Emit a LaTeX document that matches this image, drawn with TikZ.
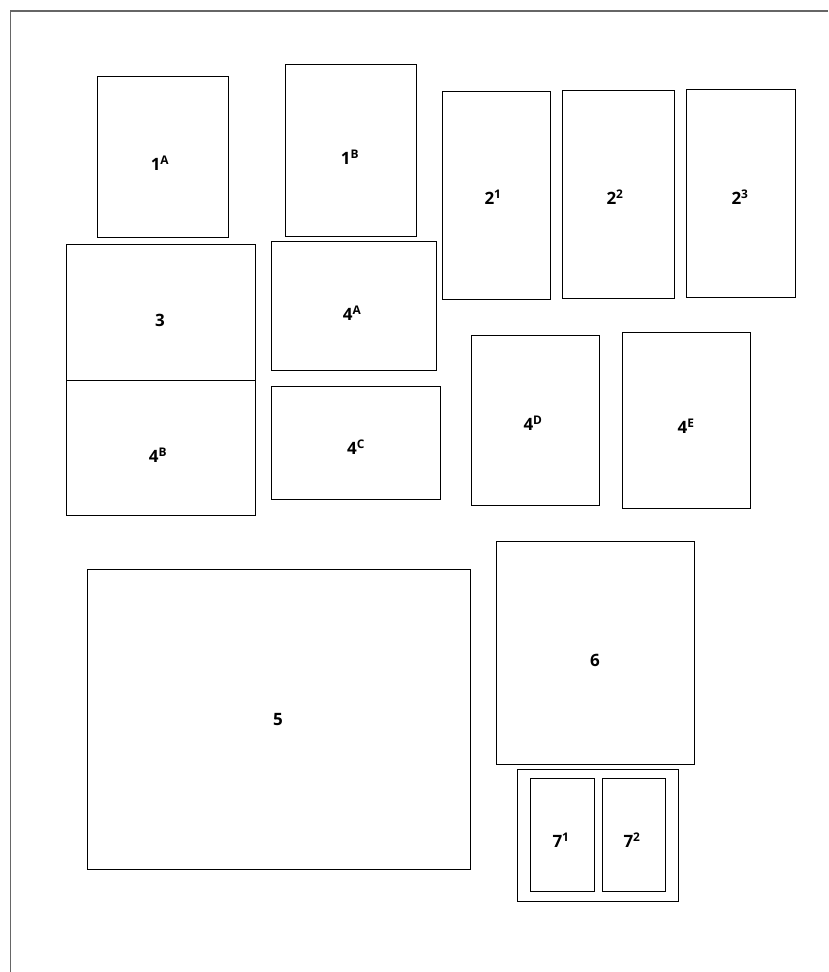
\documentclass[tikz,border=0pt]{standalone}
\usepackage{fontspec}
\setmainfont{Open Sans}
\begin{document}
\begin{tikzpicture}[x=1pt,y=-1pt,
  panel/.style={draw=black,line width=0.8pt,anchor=north west,inner sep=0pt},
  lab/.style={font=\fontsize{17}{20}\selectfont\bfseries,inner sep=0pt},
  frameline/.style={draw=black!60,line width=1.6pt}]
\useasboundingbox (0,0) rectangle (828,972);
\draw[frameline] (10.5,972) -- (10.5,11) -- (828,11);
% panels
\node[panel,minimum width=131pt,minimum height=161pt] (p1a) at (97,76) {};
\node[panel,minimum width=131pt,minimum height=172pt] (p1b) at (285,64) {};
\node[panel,minimum width=108pt,minimum height=208pt] (p21) at (442,91) {};
\node[panel,minimum width=112pt,minimum height=208pt] (p22) at (562,90) {};
\node[panel,minimum width=109pt,minimum height=208pt] (p23) at (686,89) {};
\node[panel,minimum width=189pt,minimum height=136pt] (p3) at (66,244) {};
\node[panel,minimum width=189pt,minimum height=135pt] (p4b) at (66,380) {};
\node[panel,minimum width=165pt,minimum height=129pt] (p4a) at (271,241) {};
\node[panel,minimum width=169pt,minimum height=113pt] (p4c) at (271,386) {};
\node[panel,minimum width=128pt,minimum height=170pt] (p4d) at (471,335) {};
\node[panel,minimum width=128pt,minimum height=176pt] (p4e) at (622,332) {};
\node[panel,minimum width=383pt,minimum height=300pt] (p5) at (87,569) {};
\node[panel,minimum width=198pt,minimum height=223pt] (p6) at (496,541) {};
\node[panel,minimum width=161pt,minimum height=132pt] (p7) at (517,769) {};
\node[panel,minimum width=64pt,minimum height=113pt] (p71) at (530,778) {};
\node[panel,minimum width=63pt,minimum height=113pt] (p72) at (602,778) {};
% labels
\node[lab] (l1a) at (160,163) {1\textsuperscript{A}};
\node[lab] (l1b) at (350,157) {1\textsuperscript{B}};
\node[lab] (l21) at (493,197) {2\textsuperscript{1}};
\node[lab] (l22) at (615,197) {2\textsuperscript{2}};
\node[lab] (l23) at (740,197) {2\textsuperscript{3}};
\node[lab] (l3) at (160,320) {3};
\node[lab] (l4b) at (158,455) {4\textsuperscript{B}};
\node[lab] (l4a) at (352,313) {4\textsuperscript{A}};
\node[lab] (l4c) at (356,447) {4\textsuperscript{C}};
\node[lab] (l4d) at (533,423) {4\textsuperscript{D}};
\node[lab] (l4e) at (686,426) {4\textsuperscript{E}};
\node[lab] (l5) at (278,720) {5};
\node[lab] (l6) at (595,660) {6};
\node[lab] (l71) at (561,840) {7\textsuperscript{1}};
\node[lab] (l72) at (632,840) {7\textsuperscript{2}};
\end{tikzpicture}
\end{document}
